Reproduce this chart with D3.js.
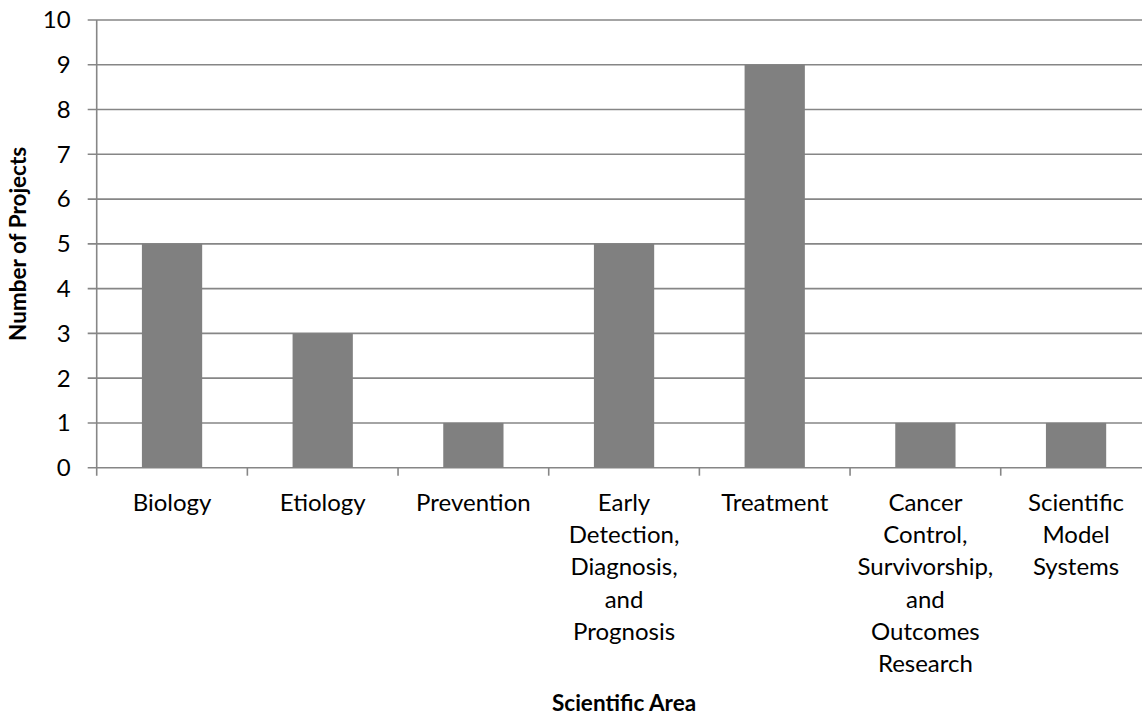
<!DOCTYPE html>
<html>
<head>
<meta charset="utf-8">
<script src="https://cdn.jsdelivr.net/npm/d3@7"></script>
<style>
  html, body { margin: 0; padding: 0; background: #fff; }
  svg { display: block; }
  text { font-family: Lato, "Open Sans", sans-serif; fill: #000; }
</style>
</head>
<body>
<svg id="chart" width="1142" height="717"></svg>
<script>
// Projects per scientific area
const categories = [
  ["Biology"],
  ["Etiology"],
  ["Prevention"],
  ["Early", "Detection,", "Diagnosis,", "and", "Prognosis"],
  ["Treatment"],
  ["Cancer", "Control,", "Survivorship,", "and", "Outcomes", "Research"],
  ["Scientific", "Model", "Systems"]
];
const projectCounts = [5, 3, 1, 5, 9, 1, 1];
const yTicks = [0, 1, 2, 3, 4, 5, 6, 7, 8, 9, 10];
const yTitle = "Number of Projects";
const xTitle = "Scientific Area";

const svg = d3.select("#chart");
const plotLeft = 96.7, plotRight = 1151.4, plotTop = 20, plotBottom = 467.7;
const gridColor = "#868686";

const keys = categories.map((c, i) => i);
const x = d3.scaleBand().domain(keys).range([plotLeft, plotRight]).paddingInner(0.6).paddingOuter(0.3);
const y = d3.scaleLinear().domain([0, 10]).range([plotBottom, plotTop]);

// horizontal gridlines with short ticks left of the axis
svg.append("g").selectAll("line").data(yTicks).join("line")
  .attr("x1", plotLeft - 9).attr("x2", plotRight)
  .attr("y1", d => y(d)).attr("y2", d => y(d))
  .attr("stroke", gridColor).attr("stroke-width", 1.6);

// y tick labels
svg.append("g").selectAll("text").data(yTicks).join("text")
  .attr("x", plotLeft - 26).attr("y", d => y(d))
  .attr("dy", "0.35em").attr("text-anchor", "end")
  .style("font-size", "24px")
  .text(d => d);

// bars
svg.append("g").selectAll("rect").data(projectCounts).join("rect")
  .attr("x", (d, i) => x(i)).attr("width", x.bandwidth())
  .attr("y", d => y(d)).attr("height", d => y(0) - y(d))
  .attr("fill", "#808080");

// y axis line
svg.append("line")
  .attr("x1", plotLeft).attr("x2", plotLeft).attr("y1", plotTop).attr("y2", plotBottom + 8)
  .attr("stroke", gridColor).attr("stroke-width", 1.6);

// category boundary ticks below the baseline
const step = x.step();
const bounds = d3.range(1, categories.length + 1).map(i => plotLeft + i * step);
svg.append("g").selectAll("line").data(bounds).join("line")
  .attr("x1", d => d).attr("x2", d => d)
  .attr("y1", plotBottom).attr("y2", plotBottom + 8)
  .attr("stroke", gridColor).attr("stroke-width", 1.6);

// category labels, one line per word group
const lineH = 32.2;
const labels = svg.append("g").selectAll("text").data(categories).join("text")
  .attr("text-anchor", "middle")
  .style("font-size", "24px");
labels.each(function (lines, i) {
  const cx = x(i) + x.bandwidth() / 2;
  d3.select(this).selectAll("tspan").data(lines).join("tspan")
    .attr("x", cx)
    .attr("y", (d, j) => 511 + j * lineH)
    .text(d => d);
});

// axis titles
svg.append("text")
  .attr("transform", `translate(26, ${(plotTop + plotBottom) / 2}) rotate(-90)`)
  .attr("text-anchor", "middle")
  .style("font-size", "22.5px").style("font-weight", "bold")
  .text(yTitle);

svg.append("text")
  .attr("x", (plotLeft + plotRight) / 2).attr("y", 711)
  .attr("text-anchor", "middle")
  .style("font-size", "22.5px").style("font-weight", "bold")
  .text(xTitle);
</script>
</body>
</html>
